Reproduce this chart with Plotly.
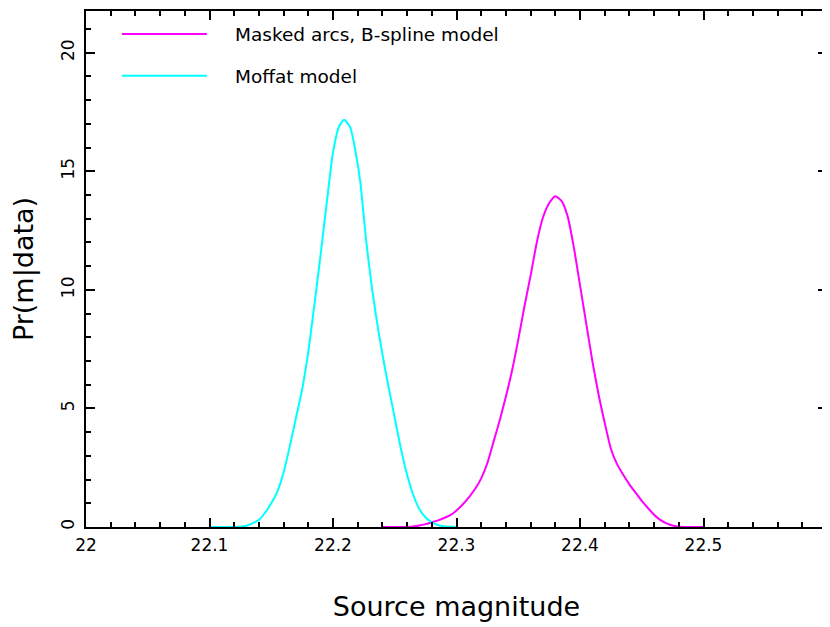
"""Posterior of the source magnitude for two lens models."""

import plotly.graph_objects as go

# Masked arcs, B-spline model (magenta)
BSPLINE_MAG = [22.240, 22.255, 22.265, 22.270, 22.275, 22.280, 22.285, 22.290,
               22.295, 22.300, 22.305, 22.310, 22.315, 22.320, 22.325, 22.330,
               22.335, 22.340, 22.345, 22.350, 22.355, 22.360, 22.365, 22.370,
               22.375, 22.380, 22.385, 22.390, 22.395, 22.400, 22.405, 22.410,
               22.415, 22.420, 22.425, 22.430, 22.435, 22.440, 22.445, 22.450,
               22.455, 22.460, 22.465, 22.470, 22.475, 22.480, 22.500]
BSPLINE_PDF = [0.0, 0.0, 0.02, 0.06, 0.12, 0.2, 0.28, 0.38,
               0.5, 0.7, 0.95, 1.25, 1.6, 2.05, 2.7, 3.6,
               4.5, 5.5, 6.6, 7.9, 9.3, 10.6, 12.0, 13.05,
               13.65, 13.95, 13.75, 13.1, 11.8, 10.2, 8.6, 7.0,
               5.6, 4.4, 3.3, 2.65, 2.2, 1.8, 1.45, 1.1,
               0.8, 0.52, 0.3, 0.15, 0.06, 0.01, 0.0]

# Moffat model (cyan)
MOFFAT_MAG = [22.100, 22.120, 22.130, 22.140, 22.145, 22.150, 22.155, 22.160,
              22.165, 22.170, 22.175, 22.180, 22.185, 22.190, 22.195, 22.200,
              22.205, 22.209, 22.214, 22.218, 22.222, 22.227, 22.232, 22.237,
              22.241, 22.245, 22.250, 22.255, 22.260, 22.265, 22.270, 22.275,
              22.280, 22.285, 22.290, 22.300]
MOFFAT_PDF = [0.0, 0.0, 0.05, 0.3, 0.6, 1.0, 1.5, 2.3,
              3.4, 4.6, 5.8, 7.4, 9.4, 11.5, 13.7, 15.8,
              16.9, 17.17, 16.85, 15.9, 14.6, 12.0, 9.9, 8.2,
              7.0, 5.9, 4.6, 3.3, 2.2, 1.35, 0.75, 0.4,
              0.2, 0.08, 0.03, 0.0]

SERIES = [
    ("Masked arcs, B-spline model", BSPLINE_MAG, BSPLINE_PDF, "#ff00ff"),
    ("Moffat model", MOFFAT_MAG, MOFFAT_PDF, "#00ffff"),
]

X_TICKS = [22, 22.1, 22.2, 22.3, 22.4, 22.5]
X_TICK_TEXT = ["22", "22.1", "22.2", "22.3", "22.4", "22.5"]
Y_TICKS = [0, 5, 10, 15, 20]

FONT = "DejaVu Sans"

fig = go.Figure()
for name, mag, pdf, color in SERIES:
    fig.add_trace(go.Scatter(
        x=mag, y=pdf, mode="lines", name=name,
        line=dict(color=color, width=2, shape="spline", smoothing=0.6),
        showlegend=False,
    ))

# hand-drawn legend, top-left inside the frame
for i, (name, _, _, color) in enumerate(SERIES):
    yl = 0.9555 - i * 0.0809
    fig.add_shape(type="line", xref="paper", yref="paper",
                  x0=0.0485, x1=0.163, y0=yl, y1=yl,
                  line=dict(color=color, width=2))
    fig.add_annotation(xref="paper", yref="paper", x=0.198, y=yl - 0.002,
                       text=name, showarrow=False, xanchor="left", yanchor="middle",
                       font=dict(family=FONT, size=18.5, color="black"))

axis_common = dict(
    showline=True, linecolor="black", linewidth=2, mirror="allticks",
    ticks="inside", ticklen=9, tickwidth=2, tickcolor="black",
    showgrid=False, zeroline=False,
    tickfont=dict(family=FONT, size=17, color="black"),
)

fig.update_xaxes(
    range=[22, 22.6], tickmode="array", tickvals=X_TICKS, ticktext=X_TICK_TEXT,
    minor=dict(tick0=22, dtick=0.02, ticks="inside", ticklen=5, tickwidth=2,
               tickcolor="black"),
    title=dict(text="Source magnitude", standoff=43,
               font=dict(family=FONT, size=27, color="black")),
    ticklabelstandoff=2,
    **axis_common,
)
fig.update_yaxes(
    range=[0, 21.76], tickmode="array", tickvals=Y_TICKS,
    tickangle=-90,
    minor=dict(tick0=0, dtick=1, ticks="inside", ticklen=5, tickwidth=2,
               tickcolor="black"),
    title=dict(text="Pr(m|data)", standoff=30,
               font=dict(family=FONT, size=27, color="black")),
    ticklabelstandoff=3,
    **axis_common,
)

# the page body adds an 8 px offset, so the figure is 8 px smaller
fig.update_layout(
    width=822, height=619,
    margin=dict(l=78, r=2, t=1, b=100),
    plot_bgcolor="white", paper_bgcolor="white",
    font=dict(family=FONT, color="black"),
)

fig.write_html("out.html")
